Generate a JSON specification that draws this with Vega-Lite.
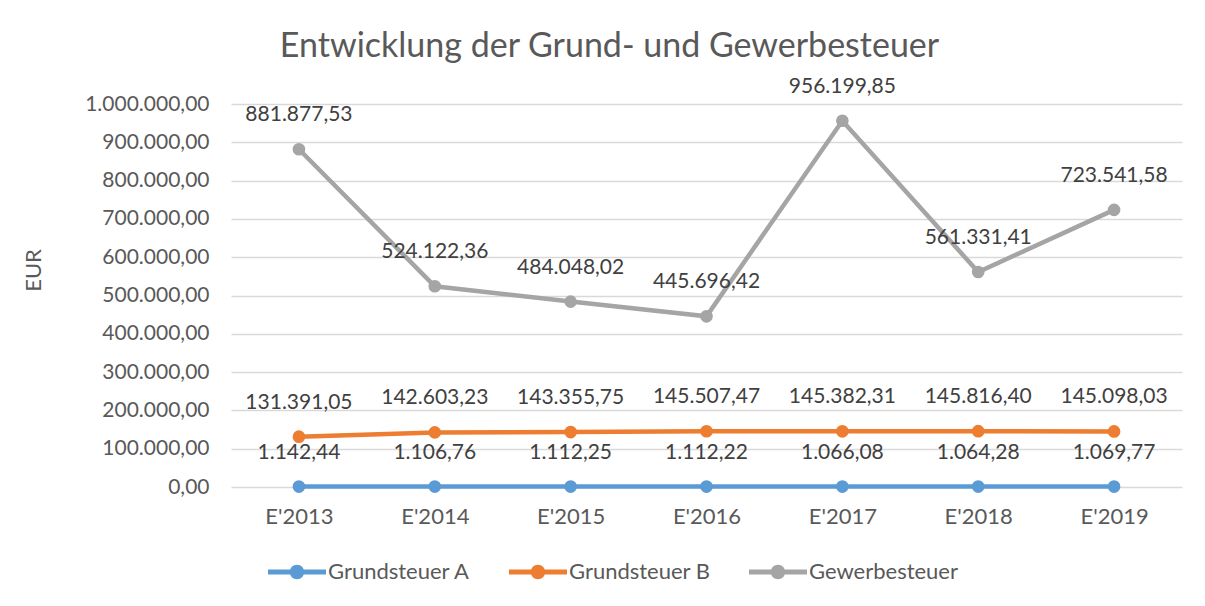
{
  "$schema": "https://vega.github.io/schema/vega-lite/v6.json",
  "autosize": {"type": "none"},
  "width": 951,
  "height": 383,
  "padding": {"left": 231, "top": 104, "right": 23, "bottom": 119},
  "background": "white",
  "title": {
    "text": "Entwicklung der Grund- und Gewerbesteuer",
    "fontSize": 34,
    "font": "Lato",
    "fontWeight": "normal",
    "color": "#595959",
    "anchor": "middle",
    "dx": -97,
    "offset": 12
  },
  "config": {
    "locale": {"number": {"decimal": ",", "thousands": ".", "grouping": [3], "currency": ["", " €"]}},
    "font": "Lato",
    "view": {"stroke": null}
  },
  "data": {
    "values": [
      {"jahr": "E'2013", "serie": "Grundsteuer A", "wert": 1142.44},
      {"jahr": "E'2014", "serie": "Grundsteuer A", "wert": 1106.76},
      {"jahr": "E'2015", "serie": "Grundsteuer A", "wert": 1112.25},
      {"jahr": "E'2016", "serie": "Grundsteuer A", "wert": 1112.22},
      {"jahr": "E'2017", "serie": "Grundsteuer A", "wert": 1066.08},
      {"jahr": "E'2018", "serie": "Grundsteuer A", "wert": 1064.28},
      {"jahr": "E'2019", "serie": "Grundsteuer A", "wert": 1069.77},
      {"jahr": "E'2013", "serie": "Grundsteuer B", "wert": 131391.05},
      {"jahr": "E'2014", "serie": "Grundsteuer B", "wert": 142603.23},
      {"jahr": "E'2015", "serie": "Grundsteuer B", "wert": 143355.75},
      {"jahr": "E'2016", "serie": "Grundsteuer B", "wert": 145507.47},
      {"jahr": "E'2017", "serie": "Grundsteuer B", "wert": 145382.31},
      {"jahr": "E'2018", "serie": "Grundsteuer B", "wert": 145816.40},
      {"jahr": "E'2019", "serie": "Grundsteuer B", "wert": 145098.03},
      {"jahr": "E'2013", "serie": "Gewerbesteuer", "wert": 881877.53},
      {"jahr": "E'2014", "serie": "Gewerbesteuer", "wert": 524122.36},
      {"jahr": "E'2015", "serie": "Gewerbesteuer", "wert": 484048.02},
      {"jahr": "E'2016", "serie": "Gewerbesteuer", "wert": 445696.42},
      {"jahr": "E'2017", "serie": "Gewerbesteuer", "wert": 956199.85},
      {"jahr": "E'2018", "serie": "Gewerbesteuer", "wert": 561331.41},
      {"jahr": "E'2019", "serie": "Gewerbesteuer", "wert": 723541.58}
    ]
  },
  "encoding": {
    "x": {
      "field": "jahr",
      "type": "ordinal",
      "sort": null,
      "scale": {"type": "point", "padding": 0.5},
      "axis": {
        "title": null,
        "labelAngle": 0,
        "labelFontSize": 22,
        "labelColor": "#595959",
        "labelPadding": 19,
        "ticks": false,
        "domain": false,
        "grid": false
      }
    },
    "y": {
      "field": "wert",
      "type": "quantitative",
      "scale": {"domain": [0, 1000000], "nice": false},
      "axis": {
        "title": "EUR",
        "titleFontSize": 22,
        "titleFontWeight": "normal",
        "titleColor": "#595959",
        "titleX": -198,
        "titleY": 166,
        "titleBaseline": "middle",
        "titleAngle": -90,
        "values": [0, 100000, 200000, 300000, 400000, 500000, 600000, 700000, 800000, 900000, 1000000],
        "format": ",.2f",
        "labelFontSize": 21,
        "labelColor": "#595959",
        "labelPadding": 22,
        "ticks": false,
        "domain": false,
        "grid": true,
        "gridColor": "#d9d9d9",
        "gridWidth": 1.5
      }
    },
    "color": {
      "field": "serie",
      "type": "nominal",
      "sort": ["Grundsteuer A", "Grundsteuer B", "Gewerbesteuer"],
      "scale": {
        "domain": ["Grundsteuer A", "Grundsteuer B", "Gewerbesteuer"],
        "range": ["#5b9bd5", "#ed7d31", "#a5a5a5"]
      },
      "legend": {
        "title": null,
        "orient": "none",
        "direction": "horizontal",
        "legendX": 37,
        "legendY": 439,
        "symbolType": "M-1,-0.09L1,-0.09L1,0.09L-1,0.09Z M0.25,0A0.25,0.25,0,1,1,-0.25,0A0.25,0.25,0,1,1,0.25,0Z",
        "symbolSize": 3364,
        "symbolStrokeWidth": 0,
        "symbolOpacity": 1,
        "labelFontSize": 22,
        "labelColor": "#595959",
        "labelOffset": 2,
        "labelLimit": 300,
        "columnPadding": 38
      }
    }
  },
  "layer": [
    {
      "mark": {"type": "line", "strokeWidth": 4.5}
    },
    {
      "mark": {"type": "point", "filled": true, "size": 160, "opacity": 1}
    },
    {
      "mark": {"type": "text", "dy": -34, "fontSize": 21, "color": "#404040", "baseline": "middle"},
      "encoding": {
        "text": {"field": "wert", "type": "quantitative", "format": ",.2f"},
        "color": {"value": "#404040"}
      }
    }
  ]
}
